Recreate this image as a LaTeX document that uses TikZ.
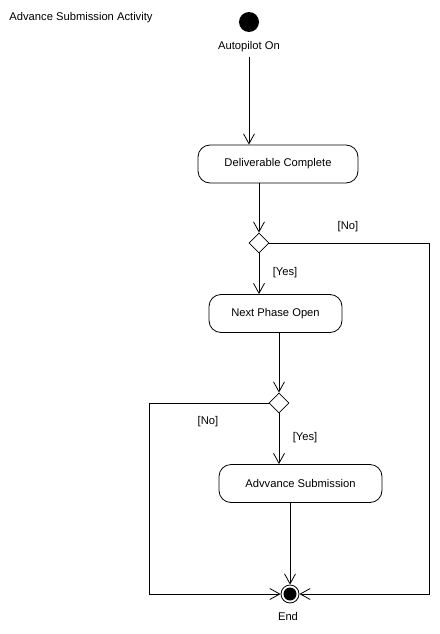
\documentclass[tikz,border=0pt]{standalone}
\usepackage{fontspec}
\setmainfont{Liberation Sans}
\usetikzlibrary{arrows.meta,shapes.geometric}
\begin{document}
\begin{tikzpicture}[x=1pt,y=-1pt,
  line width=0.8pt,
  txt/.style={font=\fontsize{11.2}{13}\selectfont, inner sep=0pt},
  act/.style={draw, rounded corners=12pt, minimum height=38pt, inner sep=0pt, txt},
  dec/.style={draw, diamond, aspect=1, minimum width=20pt, minimum height=20pt, inner sep=0pt},
  initial/.style={circle, fill=black, minimum size=20pt, inner sep=0pt},
  final/.style={circle, draw, minimum size=18pt, inner sep=0pt,
    path picture={\fill[black] (path picture bounding box.center) circle (6.5pt);}},
  arr/.style={-{Straight Barb[length=10pt,width=11pt]}}
]
\useasboundingbox (0,0) rectangle (439,634);
\fill[white] (0,0) rectangle (439,634);

\node[txt, anchor=west] (title) at (9,18) {Advance Submission Activity};

\node[initial] (start) at (249,22) {};
\node[txt] (startlbl) at (249,47) {Autopilot On};
\node[act, minimum width=160pt] (b1) at (278,164) {Deliverable Complete};
\node[dec] (d1) at (259,243) {};
\node[act, minimum width=133pt] (b2) at (275.5,313.5) {Next Phase Open};
\node[dec] (d2) at (279,403) {};
\node[act, minimum width=163pt] (b3) at (300.5,483.5) {Advvance Submission};
\node[final] (endn) at (290,594) {};
\node[txt] (endlbl) at (288,616) {End};

\node[txt] (no1) at (348,227) {[No]};
\node[txt] (yes1) at (285,273) {[Yes]};
\node[txt] (no2) at (208,422) {[No]};
\node[txt] (yes2) at (305,438) {[Yes]};

\coordinate (r1) at (429,243);
\coordinate (l1) at (149,403);

\draw[arr] (startlbl.south |- 0,57) -- (startlbl.south |- b1.north);
\draw[arr] (b1.south -| d1) -- (d1.north);
\draw[arr] (d1.south) -- (d1.south |- b2.north);
\draw[arr] (d1.east) -- (r1) |- (endn.east);
\draw[arr] (b2.south -| d2) -- (d2.north);
\draw[arr] (d2.south) -- (d2.south |- b3.north);
\draw[arr] (d2.west) -- (l1) |- (endn.west);
\draw[arr] (b3.south -| endn) -- (endn.north);
\end{tikzpicture}
\end{document}
